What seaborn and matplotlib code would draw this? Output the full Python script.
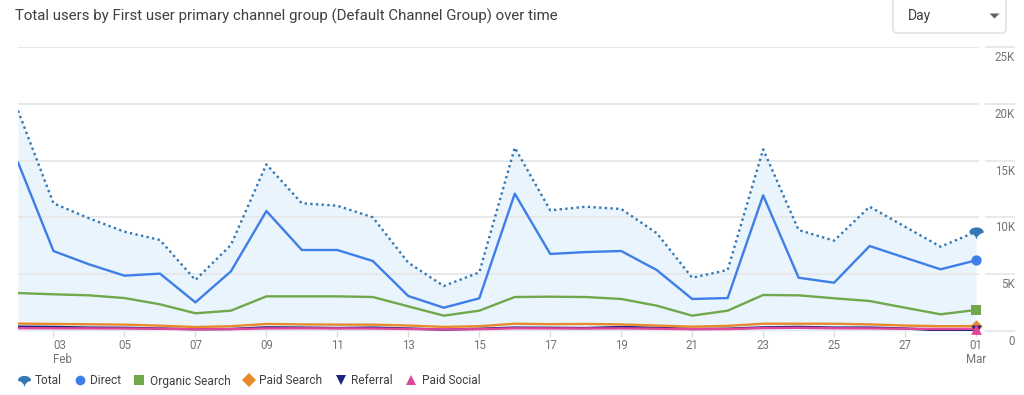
import numpy as np
import pandas as pd
import seaborn as sns
import matplotlib.pyplot as plt
import matplotlib.transforms as mtransforms
from matplotlib.path import Path
from matplotlib.lines import Line2D
from matplotlib.patches import FancyBboxPatch, Polygon

# daily values, 02 Feb - 01 Mar
dates = pd.date_range('2023-02-02', '2023-03-01', freq='D')
total = [19400, 11240, 9920, 8740, 8010, 4490, 7570, 14670, 11240, 11030, 10000, 6010, 3960, 5160,
         16140, 10620, 10940, 10740, 8620, 4690, 5370, 15990, 8890, 7950, 10940, 9180, 7420, 8740]
direct = [14850, 7040, 5870, 4870, 5050, 2520, 5250, 10560, 7130, 7130, 6160, 3080, 2050, 2880,
          12090, 6780, 6950, 7040, 5370, 2820, 2900, 11940, 4690, 4250, 7480, 6450, 5430, 6220]
organic = [3340, 3230, 3140, 2900, 2350, 1560, 1790, 3050, 3050, 3050, 2990, 2170, 1350, 1790,
           2990, 3020, 2990, 2820, 2230, 1350, 1790, 3170, 3140, 2880, 2640, 2050, 1470, 1850]
paid_search = [650, 620, 590, 560, 470, 350, 420, 620, 580, 560, 560, 480, 360, 420,
               640, 600, 620, 580, 480, 380, 450, 640, 640, 640, 580, 480, 420, 430]
referral = [380, 360, 300, 280, 220, 160, 180, 320, 300, 260, 300, 220, 120, 200,
            300, 280, 260, 350, 280, 180, 200, 320, 360, 300, 300, 220, 60, 80]
paid_social = [250, 240, 230, 220, 200, 150, 160, 230, 240, 230, 220, 180, 140, 160,
               240, 230, 220, 230, 200, 160, 170, 260, 280, 240, 230, 200, 180, 190]

channels = ['Total', 'Direct', 'Organic Search', 'Paid Search', 'Referral', 'Paid Social']
series = [total, direct, organic, paid_search, referral, paid_social]
y_ticks = [0, 5000, 10000, 15000, 20000, 25000]
y_labels = ['0', '5K', '10K', '15K', '20K', '25K']

colors = {'Total': '#3378b5', 'Direct': '#3f7ee8', 'Organic Search': '#71a84c',
          'Paid Search': '#e8892b', 'Referral': '#1c2383', 'Paid Social': '#e0469b'}

# pin shaped marker used by GA for the total
arc = Path.arc(0, 180)
pin_verts = [(x, 0.7 * y) for x, y in arc.vertices] + [(-0.45, -0.25), (-0.12, -0.6), (0, -0.97),
                                                       (0.12, -0.6), (0.45, -0.25), (1, 0)]
pin_codes = list(arc.codes) + [Path.LINETO] * 5 + [Path.CLOSEPOLY]
pin = Path(pin_verts, pin_codes)
markers = {'Total': pin, 'Direct': 'o', 'Organic Search': 's', 'Paid Search': 'D',
           'Referral': 'v', 'Paid Social': '^'}
msizes = {'Total': 110, 'Direct': 55, 'Organic Search': 50, 'Paid Search': 40,
          'Referral': 50, 'Paid Social': 60}

df = pd.DataFrame({
    'date': np.tile(dates, len(channels)),
    'channel': np.repeat(channels, len(dates)),
    'users': np.concatenate(series),
})

sns.set_theme(style='white')
plt.rcParams['font.family'] = ['Roboto', 'DejaVu Sans']

W, H = 1024, 395
fig = plt.figure(figsize=(W / 100, H / 100), dpi=100)
ax = fig.add_axes([18 / W, 1 - 331 / H, (979 - 18) / W, (331 - 47) / H])

ax.fill_between(dates, 0, total, color='#e9f4fc', lw=0, zorder=0.5)

draw_order = ['Referral', 'Paid Social', 'Paid Search', 'Organic Search', 'Direct', 'Total']
dashes = {c: '' for c in channels}
dashes['Total'] = (1, 1.4)
sns.lineplot(data=df, x='date', y='users', hue='channel', style='channel',
             hue_order=draw_order, style_order=draw_order, palette=colors,
             dashes=dashes, linewidth=1.7, legend=False, ax=ax, zorder=3)

for name, vals in zip(channels, series):
    ax.scatter(dates[-1], vals[-1], marker=markers[name], s=msizes[name], color=colors[name],
               zorder=6, clip_on=False, linewidths=0)

ax.set_xlim(dates[0], dates[-1] + pd.Timedelta(hours=2))
ax.set_ylim(0, 25000)
ax.set_yticks(y_ticks)
ax.set_yticklabels([])
ax.tick_params(axis='y', length=0)
ax.grid(axis='y', color='#e6e7e9', lw=1.3)
ax.set_xlabel('')
ax.set_ylabel('')
for s in ax.spines.values():
    s.set_visible(False)

tick_dates = dates[1::2]
ax.set_xticks(tick_dates)
lbls = []
for i, d in enumerate(tick_dates):
    if i == 0 or d.day == 1:
        lbls.append(f'{d:%d}\n{d:%b}')
    else:
        lbls.append(f'{d:%d}')
ax.set_xticklabels(lbls)
ax.tick_params(axis='x', length=4, width=1, color='#dadce0', pad=2,
               labelsize=8.3, labelcolor='#70757a', bottom=True)
for t in ax.get_xticklabels():
    t.set_linespacing(1.05)
ax.get_xticklabels()[0].set_ha('left')

# right side value labels, sitting just under each grid line
blend = mtransforms.blended_transform_factory(ax.transAxes, ax.transData)
shift = mtransforms.ScaledTranslation(0, -0.04, fig.dpi_scale_trans)
ax.hlines(y_ticks, 1.0063, 1.0375, transform=blend, color='#e6e7e9', lw=1.3, clip_on=False)
for v, lab in zip(y_ticks, y_labels):
    ax.text(1.0375, v, lab, transform=blend + shift, ha='right', va='top',
            fontsize=8.3, color='#70757a')

fig.text(15 / W, 1 - 16 / H, 'Total users by First user primary channel group (Default Channel Group) over time',
         fontsize=10.8, color='#3c4043', va='center')

px = mtransforms.IdentityTransform()
box = FancyBboxPatch((893, H - 33), 113, 45, boxstyle='round,pad=0,rounding_size=4',
                     transform=px, facecolor='white', edgecolor='#dadce0', lw=1)
fig.patches.append(box)
fig.text(908 / W, 1 - 16 / H, 'Day', fontsize=10, color='#3c4043', va='center')
fig.patches.append(Polygon([(989.5, H - 13.5), (999.5, H - 13.5), (994.5, H - 18.5)],
                           closed=True, transform=px, facecolor='#5f6368', edgecolor='none'))

handles = [Line2D([], [], linestyle='None', marker=markers[c], color=colors[c],
                  markersize=(9.5 if c == 'Total' else 7), markeredgewidth=0) for c in channels]
fig.legend(handles, channels, loc='center left', bbox_to_anchor=(18 / W, 1 - 381 / H),
           ncol=6, frameon=False, fontsize=8.6, labelcolor='#3c4043', handlelength=1,
           handletextpad=0.4, columnspacing=1.0, borderpad=0, borderaxespad=0)

fig.savefig('out.png', dpi=100)
